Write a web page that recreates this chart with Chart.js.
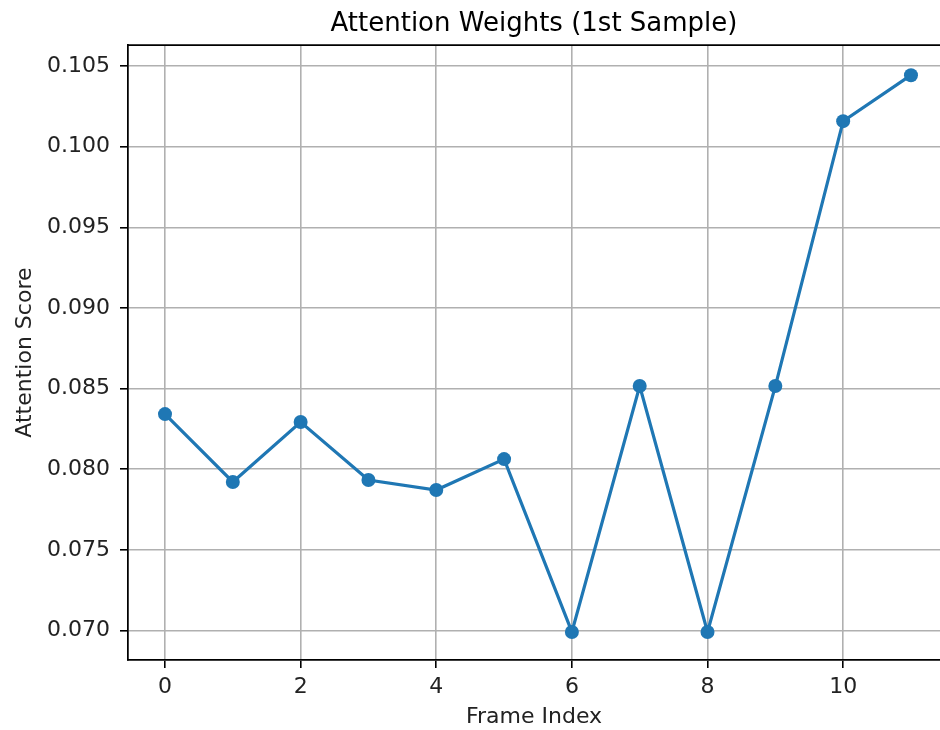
<!DOCTYPE html>
<html>
<head>
<meta charset="utf-8">
<title>Attention Weights</title>
<script src="https://cdn.jsdelivr.net/npm/chart.js@4.4.1/dist/chart.umd.min.js"></script>
<style>
  html, body { margin: 0; padding: 0; background: #fff; overflow: hidden; }
  canvas { display: block; }
</style>
</head>
<body>
<canvas id="attnChart" width="940" height="730"></canvas>
<script>
// Datos
const frameIndex = [0, 1, 2, 3, 4, 5, 6, 7, 8, 9, 10, 11];
const attentionScores = [0.08342, 0.07921, 0.08293, 0.07933, 0.07871, 0.08063,
                         0.06991, 0.08516, 0.06991, 0.08516, 0.10159, 0.10444];
const xTicks = [0, 2, 4, 6, 8, 10];
const yTicks = [0.070, 0.075, 0.080, 0.085, 0.090, 0.095, 0.100, 0.105];

const FONT = 'DejaVu Sans';
const TEXT = '#222';

// Línea superior del marco (matplotlib dibuja el borde de arriba también)
const topSpine = {
    id: 'topSpine',
    afterDraw(chart) {
        const { ctx, chartArea } = chart;
        ctx.save();
        ctx.strokeStyle = '#000';
        ctx.lineWidth = 1.75;
        ctx.beginPath();
        ctx.moveTo(chartArea.left, chartArea.top);
        ctx.lineTo(chartArea.right, chartArea.top);
        ctx.stroke();
        ctx.restore();
    }
};

const ctx = document.getElementById('attnChart').getContext('2d');
new Chart(ctx, {
    type: 'line',
    data: {
        datasets: [{
            label: 'Attention',
            data: frameIndex.map((f, i) => ({ x: f, y: attentionScores[i] })),
            borderColor: '#1f77b4',
            backgroundColor: '#1f77b4',
            borderWidth: 3.2,
            pointRadius: 7,
            pointBorderWidth: 0,
            pointBackgroundColor: '#1f77b4',
            tension: 0,
            fill: false
        }]
    },
    options: {
        responsive: false,
        animation: false,
        layout: { padding: 0, autoPadding: false },
        plugins: {
            legend: { display: false },
            tooltip: { enabled: false },
            title: {
                display: true,
                text: 'Attention Weights (1st Sample)',
                fullSize: false,
                color: '#000',
                font: { family: FONT, size: 26, weight: 'normal' },
                padding: { top: 9, bottom: 5 }
            }
        },
        scales: {
            x: {
                type: 'linear',
                min: -0.5456,
                max: 11.428,
                afterBuildTicks: s => { s.ticks = xTicks.map(v => ({ value: v })); },
                afterFit: s => { s.height = 70; },
                grid: { color: '#b0b0b0', lineWidth: 1.6, tickColor: '#000', tickLength: 8 },
                border: { display: true, color: '#000', width: 1.75 },
                ticks: { color: TEXT, font: { family: FONT, size: 22 }, padding: 6, maxRotation: 0 },
                title: { display: true, text: 'Frame Index', color: TEXT,
                         font: { family: FONT, size: 22 }, padding: { top: 0, bottom: 0 } }
            },
            y: {
                min: 0.06817,
                max: 0.1063,
                afterBuildTicks: s => { s.ticks = yTicks.map(v => ({ value: v })); },
                afterFit: s => { s.width = 128; },
                grid: { color: '#b0b0b0', lineWidth: 1.6, tickColor: '#000', tickLength: 8 },
                border: { display: true, color: '#000', width: 1.75 },
                ticks: { color: TEXT, font: { family: FONT, size: 22 }, padding: 10,
                         callback: v => v.toFixed(3) },
                title: { display: true, text: 'Attention Score', color: TEXT,
                         font: { family: FONT, size: 22 }, padding: { top: 12, bottom: 0 } }
            }
        }
    },
    plugins: [topSpine]
});
</script>
</body>
</html>
